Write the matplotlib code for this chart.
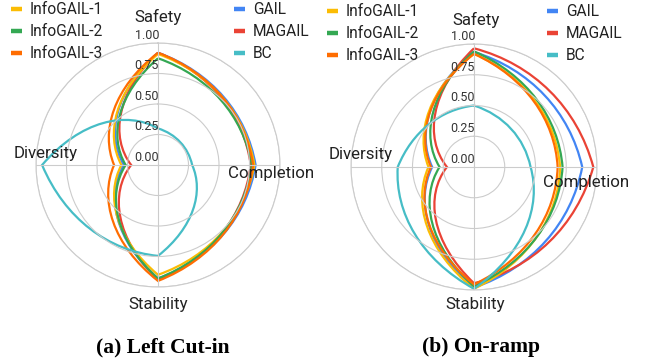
import numpy as np
import matplotlib.pyplot as plt
from matplotlib.lines import Line2D
from matplotlib.path import Path
from matplotlib.patches import PathPatch
from matplotlib.transforms import offset_copy

plt.rcParams['font.family'] = ['Roboto', 'DejaVu Sans']

categories = ["Safety", "Completion", "Stability", "Diversity"]
methods = ["GAIL", "MAGAIL", "InfoGAIL-1", "InfoGAIL-2", "InfoGAIL-3", "BC"]
colors = ["#4285F4", "#EA4335", "#FBBC04", "#34A853", "#FF6D01", "#46BDC6"]
rticks = [0.0, 0.25, 0.5, 0.75, 1.0]

# values in order Safety, Completion, Stability, Diversity
cutin_gail = [0.92, 0.80, 0.93, 0.28]
cutin_magail = [0.92, 0.76, 0.94, 0.22]
cutin_info1 = [0.91, 0.79, 0.90, 0.30]
cutin_info2 = [0.875, 0.77, 0.93, 0.265]
cutin_info3 = [0.92, 0.78, 0.95, 0.36]
cutin_bc = [0.30, 0.28, 0.745, 0.95]

ramp_gail = [0.935, 0.88, 0.98, 0.34]
ramp_magail = [0.965, 0.97, 0.945, 0.22]
ramp_info1 = [0.92, 0.70, 0.99, 0.37]
ramp_info2 = [0.94, 0.72, 0.97, 0.28]
ramp_info3 = [0.92, 0.68, 0.955, 0.35]
ramp_bc = [0.50, 0.46, 0.99, 0.62]

cutin = [cutin_gail, cutin_magail, cutin_info1, cutin_info2, cutin_info3, cutin_bc]
ramp = [ramp_gail, ramp_magail, ramp_info1, ramp_info2, ramp_info3, ramp_bc]

W, H = 647, 360
fig = plt.figure(figsize=(W / 100, H / 100), dpi=100)


def px(x, y):
    return x / W, 1 - y / H


def smooth_path(theta, vals):
    # each edge is a cubic bezier in (theta, r); the polar transform
    # maps the control points, which bends the edges like the original
    t = np.append(theta, 2 * np.pi)
    r = np.append(vals, vals[0])
    verts = [(t[0], r[0])]
    codes = [Path.MOVETO]
    for i in range(len(vals)):
        dt, dr = t[i + 1] - t[i], r[i + 1] - r[i]
        verts += [(t[i] + dt / 3, r[i] + dr / 3),
                  (t[i] + 2 * dt / 3, r[i] + 2 * dr / 3),
                  (t[i + 1], r[i + 1])]
        codes += [Path.CURVE4] * 3
    return Path(verts, codes)


def radar(cx, cy, R, series):
    ax = fig.add_axes([(cx - R) / W, (H - cy - R) / H, 2 * R / W, 2 * R / H],
                      projection='polar')
    ax.set_theta_zero_location('N')
    ax.set_theta_direction(-1)
    theta = np.deg2rad(np.arange(len(categories)) * 90.0)
    for vals, c in zip(series, colors):
        ax.add_patch(PathPatch(smooth_path(theta, vals), fill=False,
                               edgecolor=c, lw=1.6, clip_on=False))
    ax.set_ylim(0, 1)
    ax.set_yticks(rticks)
    ax.set_yticklabels([])
    ax.set_xticks(theta)
    ax.set_xticklabels([])
    ax.grid(color='#cccccc', lw=0.8)
    ax.spines['polar'].set_color('#cccccc')
    ax.spines['polar'].set_linewidth(0.8)
    tr = offset_copy(ax.transData, fig=fig, x=-8, y=5.5, units='points')
    for v in rticks:
        ax.text(0, v, "%.2f" % v, transform=tr, ha='center', va='center',
                fontsize=9, color='#333333')
    return ax


radar(158, 165, 122, cutin)
radar(474, 167, 123, ramp)


def labels(pos):
    for name, (x, y) in zip(categories, pos):
        fig.text(*px(x, y), name, ha='center', va='center', fontsize=12.2,
                 color='#222222')


labels([(158, 17), (271, 173), (158, 305), (46, 153)])
labels([(476, 20), (586, 183), (475, 305), (361, 154)])

handles = [Line2D([], [], color=c, lw=3.2, solid_capstyle='butt') for c in colors]


def legend(x, y, idx):
    lg = fig.legend([handles[i] for i in idx], [methods[i] for i in idx],
                    loc='upper left', bbox_to_anchor=px(x, y), frameon=False,
                    fontsize=11.2, handlelength=0.7, handletextpad=0.5,
                    labelspacing=0.45, borderpad=0, borderaxespad=0)
    for tx in lg.get_texts():
        tx.set_color('#222222')


legend(11, 2, [2, 3, 4])
legend(234, 2, [0, 1, 5])
legend(327, 4.5, [2, 3, 4])
legend(547, 4.5, [0, 1, 5])

fig.text(*px(163, 347), "(a) Left Cut-in", ha='center', va='center',
         family='Liberation Serif', weight='bold', fontsize=15.5)
fig.text(*px(481, 347), "(b) On-ramp", ha='center', va='center',
         family='Liberation Serif', weight='bold', fontsize=15.5)

fig.savefig("out.png", dpi=100)
